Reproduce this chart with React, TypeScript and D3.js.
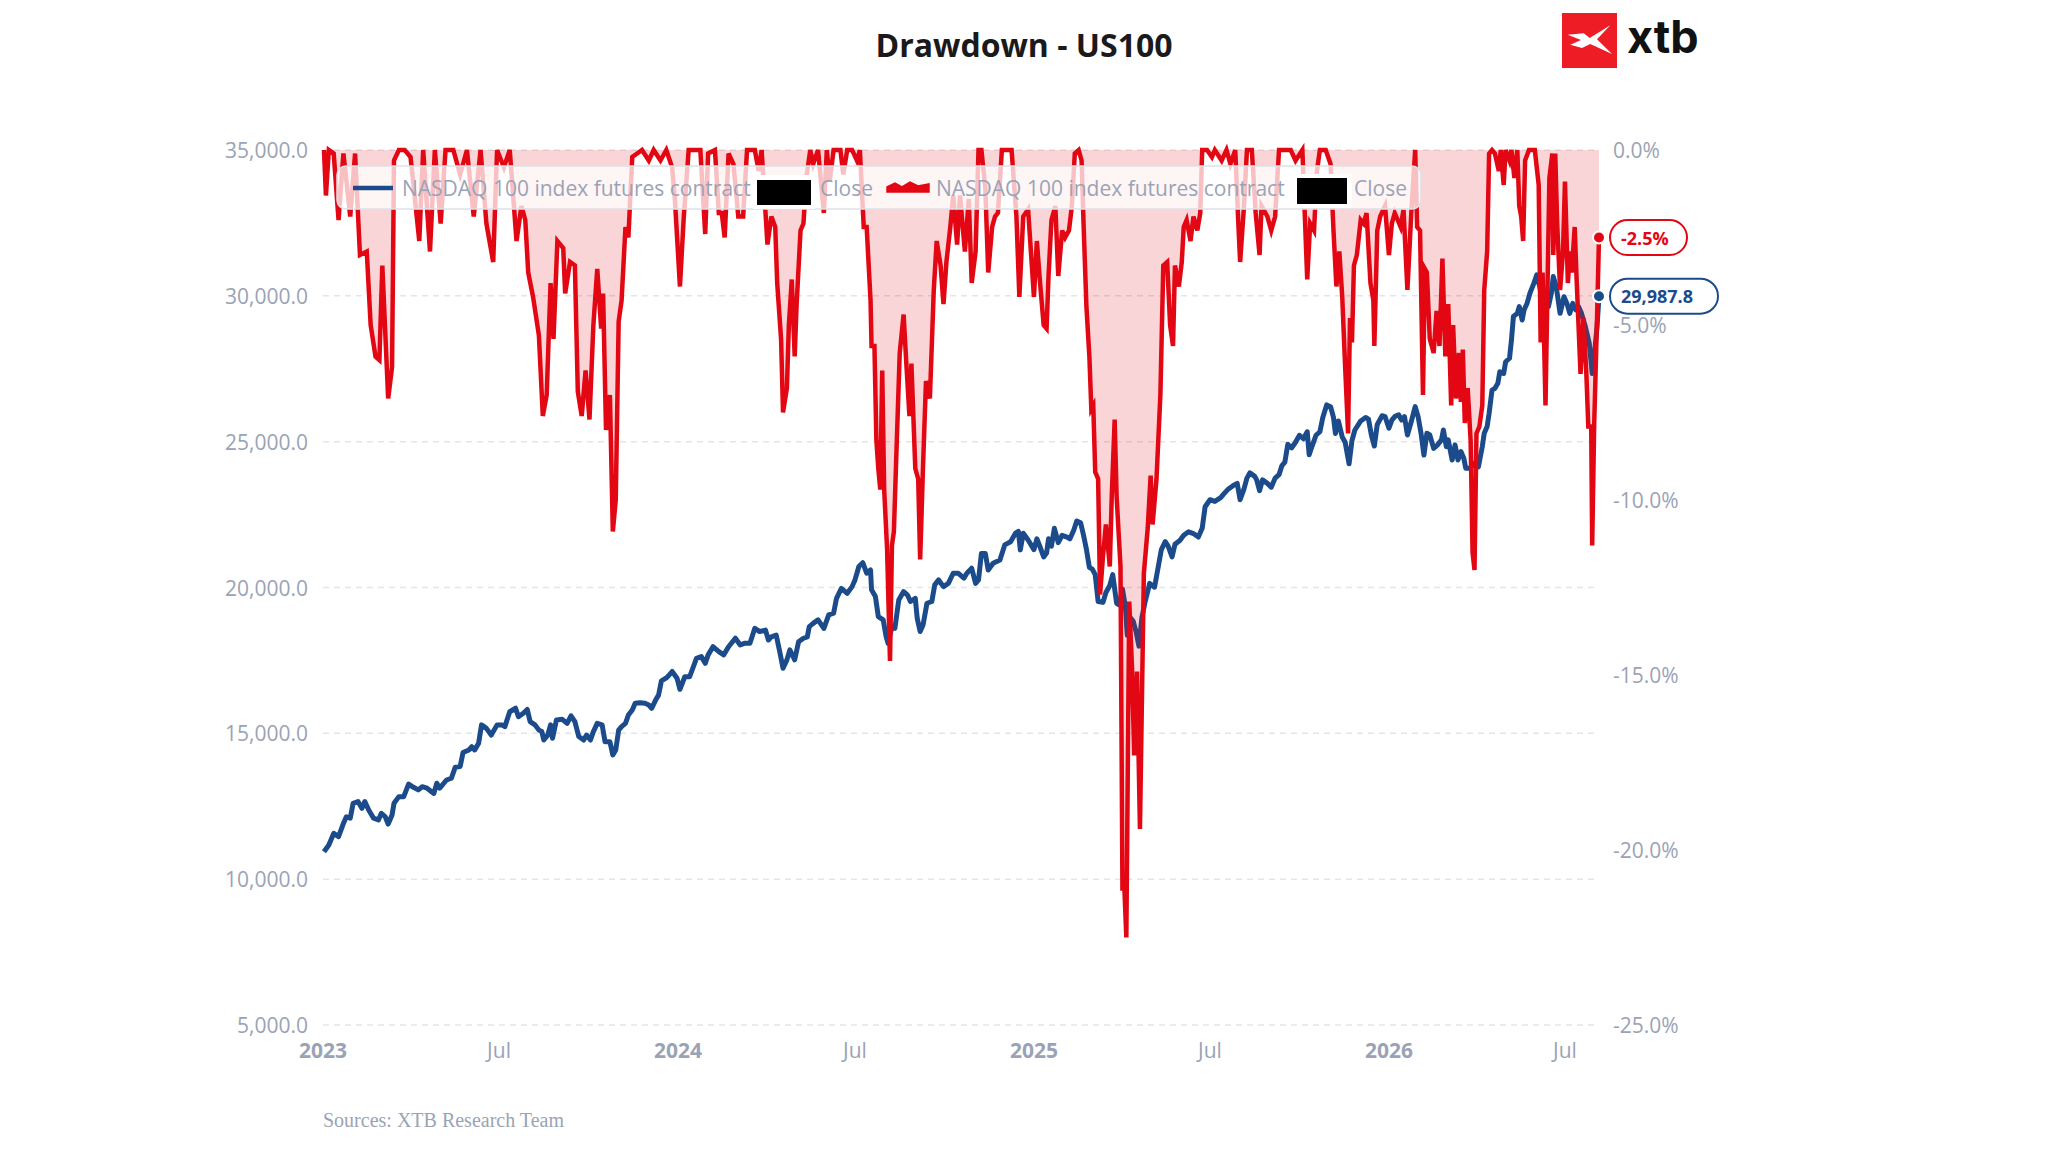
import React from 'react';
import * as d3 from 'd3';

// all series are keyed by days since 1 Jan 2023
const ORIGIN = new Date(2023, 0, 1);
const LAST_DAY = 1312;

// drawdown of the futures close, in %
const drawdown2023: [number, number][] = [
  [1, 0], [3, -1.3], [6, 0], [11, -0.1], [16, -2.0], [21, -0.1], [28, -1.9], [33, -0.1], [38, -3.0], [45, -2.9],
  [49, -5.0], [54, -5.9], [58, -6.0], [61, -3.3], [67, -7.1], [71, -6.2], [73, -0.3], [78, 0], [84, 0], [90, -0.2],
  [99, -2.6], [103, 0], [110, -2.9], [115, 0], [121, -2.1], [126, 0], [134, 0], [141, -0.7], [148, 0], [155, -1.9],
  [162, 0], [168, -2.1], [175, -3.2], [179, 0], [186, -0.5], [192, 0], [199, -2.6], [204, -1.6], [208, -2.0], [211, -3.5],
  [216, -4.2], [222, -5.3], [226, -7.6], [230, -7.0], [234, -3.8], [237, -5.4], [241, -2.6], [247, -2.8], [249, -4.1], [254, -3.2],
  [259, -3.3], [262, -6.9], [266, -7.6], [270, -6.3], [274, -7.7], [278, -5.0], [282, -3.4], [286, -5.1], [288, -4.1], [291, -8.0],
  [295, -7.0], [298, -10.9], [301, -10.0], [304, -4.9], [307, -4.3], [311, -2.2], [314, -2.5], [318, -0.2], [323, -0.1], [328, 0],
  [335, -0.3], [340, 0], [347, -0.3], [353, 0], [359, -0.5],
];

const drawdown2024: [number, number][] = [
  [362, -1.5], [367, -3.9], [371, -1.9], [376, 0], [381, 0], [388, 0], [393, -2.4], [396, -0.1], [403, 0], [407, -1.8],
  [410, -1.8], [413, -2.5], [417, -0.1], [422, -0.4], [427, -1.9], [432, -1.9], [436, 0], [444, 0], [448, -0.6], [451, 0],
  [457, -2.7], [461, -1.9], [465, -2.2], [467, -3.8], [471, -5.4], [473, -7.5], [477, -6.8], [479, -5.0], [482, -3.7], [485, -5.9],
  [487, -4.4], [491, -2.3], [494, -2.1], [497, -0.8], [501, 0], [504, -0.4], [509, 0], [515, -1.8], [518, 0], [521, -0.9],
  [525, 0], [532, 0], [535, -0.7], [539, 0], [544, 0], [549, -0.3], [552, 0], [556, -2.2], [559, -2.2], [563, -4.3],
  [564, -5.6], [567, -5.6], [569, -8.3], [571, -9.1], [573, -9.7], [575, -6.3], [577, -9.7], [580, -11.4], [583, -14.6], [585, -11.3],
  [587, -10.9], [590, -8.3], [593, -5.8], [597, -4.7], [600, -6.2], [603, -7.6], [605, -6.1], [609, -9.1], [612, -9.4], [614, -11.7],
  [617, -9.0], [620, -6.6], [624, -7.1], [628, -4.0], [631, -2.6], [635, -3.3], [638, -4.4], [641, -3.2], [645, -2.2], [648, -1.3],
  [652, -2.7], [655, -1.3], [660, -2.9], [664, -1.4], [667, -3.8], [671, -2.9], [674, 0], [677, 0], [681, -1.1], [684, -3.5],
  [688, -2.2], [691, -1.9], [694, -1.8], [698, 0], [703, 0], [708, 0], [713, -1.9], [716, -4.2], [720, -1.9], [725, -1.7],
];

const drawdown2025: [number, number][] = [
  [731, -4.2], [734, -2.6], [737, -3.7], [741, -5.0], [744, -5.1], [746, -3.6], [749, -2.0], [753, -1.6], [756, -3.6], [760, -2.3],
  [763, -2.5], [767, -2.3], [770, -1.6], [773, -0.1], [777, 0], [780, -0.3], [782, -2.1], [785, -4.5], [788, -5.9], [790, -7.4],
  [792, -7.3], [794, -9.2], [797, -9.4], [799, -12.7], [802, -11.6], [805, -10.7], [809, -11.9], [811, -9.9], [814, -7.7], [816, -9.9],
  [820, -11.9], [822, -21.1], [824, -21.1], [826, -22.5], [829, -12.9], [832, -14.9], [834, -17.3], [837, -14.9], [840, -19.4], [844, -12.1],
  [848, -10.8], [851, -9.3], [853, -10.7], [857, -9.4], [861, -7.0], [864, -3.3], [868, -3.2], [871, -5.0], [874, -5.6], [876, -3.3],
  [880, -3.9], [883, -3.2], [885, -2.2], [888, -2.0], [892, -2.6], [895, -1.9], [899, -2.3], [902, -1.8], [904, 0], [909, 0],
  [914, -0.2], [917, 0], [924, -0.3], [929, 0], [933, -0.4], [938, 0], [941, -2.0], [943, -3.2], [947, -1.6], [950, 0],
  [955, 0], [959, -1.8], [963, -3.0], [965, -1.6], [971, -1.9], [975, -2.3], [979, -1.9], [983, 0], [988, 0], [995, 0],
  [1000, -0.3], [1007, 0], [1012, -3.7], [1015, -2.1], [1019, -2.3], [1022, -0.6], [1025, 0], [1031, 0], [1036, -0.4], [1039, -2.3],
  [1042, -3.9], [1045, -2.9], [1048, -4.2], [1051, -6.2], [1054, -8.1], [1056, -4.8], [1058, -5.5], [1060, -3.3], [1063, -3.0], [1067, -2.0],
  [1070, -2.1], [1073, -1.8], [1077, -3.8], [1080, -4.3], [1081, -5.6], [1084, -2.3], [1087, -1.9],
];

const drawdown2026: [number, number][] = [
  [1092, -1.6], [1096, -3.0], [1099, -2.1], [1102, -1.8], [1108, -2.2], [1111, -1.7], [1115, -4.0], [1119, -1.8], [1123, 0], [1125, -2.2],
  [1128, -2.3], [1131, -7.0], [1133, -3.4], [1135, -3.5], [1138, -5.4], [1142, -5.8], [1145, -4.6], [1148, -5.6], [1151, -3.1], [1154, -5.9],
  [1157, -4.4], [1160, -7.3], [1162, -5.0], [1165, -7.1], [1168, -5.8], [1170, -7.2], [1172, -5.7], [1174, -7.8], [1177, -6.8], [1180, -8.3],
  [1182, -11.5], [1184, -12.0], [1186, -8.1], [1189, -7.9], [1192, -7.3], [1194, -4.0], [1197, -2.9], [1199, -0.1], [1202, 0], [1205, -0.1],
  [1209, -0.6], [1211, 0], [1214, -1.0], [1216, 0], [1220, -0.3], [1222, 0], [1225, -0.8], [1228, 0], [1230, -1.6], [1232, -1.9],
  [1234, -2.6], [1236, -0.3], [1240, 0], [1246, 0], [1250, -1.0], [1252, -5.5], [1254, -3.5], [1257, -7.3], [1259, -4.0], [1261, -0.8],
  [1264, -0.1], [1265, -3.0], [1267, -0.1], [1269, -2.1], [1272, -4.0], [1275, -2.9], [1277, -0.9], [1280, -3.8], [1282, -2.9], [1284, -3.5],
  [1287, -2.2], [1289, -3.7], [1293, -6.4], [1296, -4.8], [1299, -6.4], [1301, -7.9], [1304, -7.9], [1305, -11.3], [1307, -7.9], [1310, -4.8],
  [1312, -2.5],
];

// futures close
const close2023: [number, number][] = [
  [1, 10940], [6, 11170], [11, 11570], [16, 11460], [21, 11910], [24, 12140], [28, 12090], [31, 12600], [36, 12660], [40, 12430],
  [43, 12660], [47, 12370], [52, 12090], [57, 12030], [60, 12260], [64, 12140], [67, 11890], [71, 12200], [73, 12600], [78, 12830],
  [83, 12830], [88, 13260], [93, 13150], [98, 13060], [102, 13170], [107, 13120], [114, 12940], [117, 13290], [120, 13120], [127, 13400],
  [132, 13460], [136, 13840], [141, 13860], [144, 14340], [150, 14430], [153, 14540], [156, 14430], [160, 14660], [163, 15290], [168, 15170],
  [173, 14940], [179, 15290], [184, 15290], [187, 15230], [192, 15740], [198, 15860], [201, 15570], [206, 15690], [210, 15820], [213, 15400],
  [218, 15290], [222, 15110], [225, 15060], [227, 14770], [231, 14940], [234, 15290], [236, 14830], [240, 15460], [246, 15480], [251, 15340],
  [255, 15600], [259, 15400], [263, 14890], [268, 14770], [271, 14940], [275, 14770], [278, 15060], [282, 15340], [287, 15290], [290, 14710],
  [295, 14710], [298, 14260], [301, 14430], [304, 15110], [307, 15230], [311, 15340], [314, 15630], [318, 15800], [321, 16030], [326, 16050],
  [331, 16030], [335, 15970], [338, 15860], [342, 16140], [345, 16310], [348, 16800], [353, 16900], [356, 17000],
];

const close2024: [number, number][] = [
  [359, 17120], [364, 16890], [367, 16510], [372, 16940], [377, 16940], [384, 17570], [389, 17630], [393, 17400], [396, 17690], [401, 17970],
  [407, 17800], [412, 17690], [417, 17970], [424, 18260], [429, 18030], [434, 18090], [439, 18090], [444, 18600], [449, 18490], [455, 18540],
  [458, 18200], [461, 18310], [466, 18370], [470, 17740], [473, 17230], [477, 17520], [480, 17860], [485, 17520], [489, 18140], [494, 18260],
  [498, 18310], [500, 18660], [504, 18770], [509, 18890], [515, 18600], [520, 19060], [525, 19120], [528, 19630], [533, 19970], [539, 19800],
  [544, 20030], [547, 20260], [551, 20720], [555, 20850], [559, 20490], [563, 20600], [564, 19920], [568, 19690], [571, 19000], [576, 18890],
  [579, 18320], [581, 18090], [585, 18660], [588, 18600], [592, 19570], [597, 19860], [601, 19740], [604, 19520], [609, 19630], [611, 18940],
  [614, 18490], [617, 18720], [621, 19460], [626, 19520], [629, 20090], [633, 20260], [638, 20030], [643, 20140], [648, 20490], [653, 20490],
  [659, 20320], [662, 20490], [667, 20660], [671, 20140], [674, 20260], [677, 21170], [681, 21170], [684, 20600], [689, 20830], [696, 20940],
  [701, 21460], [707, 21570], [712, 21860], [715, 21920], [717, 21290], [720, 21860], [725, 21630],
];

const close2025: [number, number][] = [
  [731, 21300], [734, 21670], [737, 21420], [741, 21050], [744, 21180], [746, 21670], [749, 21420], [752, 22030], [756, 21540], [760, 21790],
  [765, 21730], [768, 21670], [772, 21970], [775, 22280], [779, 22220], [782, 21790], [785, 21300], [788, 20690], [791, 20630], [794, 20440],
  [797, 19520], [802, 19490], [805, 19830], [809, 20070], [812, 20440], [816, 19460], [819, 19400], [822, 19950], [825, 19340], [827, 18360],
  [830, 18970], [833, 18850], [836, 18480], [839, 17990], [842, 18970], [845, 19460], [850, 20140], [855, 20010], [858, 20560], [862, 21300],
  [866, 21570], [869, 21420], [873, 21050], [876, 21480], [881, 21610], [885, 21790], [890, 21910], [895, 21850], [900, 21730], [904, 22030],
  [907, 22770], [912, 23010], [917, 22950], [923, 23080], [926, 23200], [931, 23380], [936, 23500], [940, 23570], [943, 23010], [947, 23380],
  [950, 23750], [953, 23930], [958, 23810], [960, 23690], [963, 23320], [966, 23690], [971, 23570], [975, 23440], [979, 23750], [983, 23870],
  [986, 24180], [989, 24300], [992, 24910], [996, 24790], [1000, 24980], [1004, 25220], [1008, 25100], [1012, 25340], [1014, 24550], [1017, 24850],
  [1021, 25220], [1025, 25340], [1028, 25830], [1032, 26260], [1036, 26200], [1039, 25830], [1041, 25280], [1044, 25710], [1048, 25160], [1051, 24980],
  [1055, 24240], [1058, 25040], [1061, 25400], [1067, 25710], [1072, 25830], [1075, 25770], [1078, 25220], [1081, 24850], [1084, 25590], [1089, 25890],
];

const close2026: [number, number][] = [
  [1092, 25860], [1096, 25460], [1099, 25740], [1102, 25860], [1106, 25920], [1109, 25740], [1112, 25860], [1115, 25230], [1119, 25690], [1123, 26200],
  [1126, 25860], [1129, 25290], [1132, 24540], [1135, 25290], [1138, 25230], [1142, 24770], [1146, 24890], [1150, 25060], [1152, 25400], [1155, 24830],
  [1157, 25060], [1161, 24370], [1164, 24890], [1167, 24370], [1170, 24660], [1173, 24430], [1175, 24090], [1180, 24090], [1183, 24260], [1188, 24140],
  [1192, 24830], [1194, 25290], [1197, 25520], [1199, 25970], [1202, 26770], [1205, 26830], [1208, 27000], [1210, 27400], [1214, 27340], [1216, 27740],
  [1220, 27860], [1222, 28490], [1224, 29290], [1228, 29400], [1230, 29630], [1233, 29170], [1235, 29520], [1238, 29740], [1241, 30090], [1245, 30430],
  [1248, 30720], [1251, 30320], [1253, 29970], [1257, 30090], [1260, 29630], [1263, 30090], [1265, 30660], [1268, 30320], [1270, 29860], [1272, 29400],
  [1276, 29970], [1279, 29740], [1282, 29400], [1285, 29740], [1288, 29520], [1291, 29630], [1294, 29400], [1298, 28940], [1302, 28370], [1305, 27340],
  [1307, 27920], [1310, 28940], [1312, 29987.8],
];

const leftTicks = [5000, 10000, 15000, 20000, 25000, 30000, 35000];
const rightTicks = [0, -5, -10, -15, -20, -25];
const xTickDates = ['2023-01-01', '2023-07-01', '2024-01-01', '2024-07-01', '2025-01-01', '2025-07-01', '2026-01-01', '2026-07-01'];
const xTickLabels = ['2023', 'Jul', '2024', 'Jul', '2025', 'Jul', '2026', 'Jul'];

const BLUE = '#1c4b8c';
const RED = '#e30613';
const GREY = '#9aa3b5';
const SANS = '"Open Sans", "Noto Sans", sans-serif';

type Pt = { date: Date; value: number };

const toPoints = (rows: [number, number][]): Pt[] =>
  rows.map(([day, value]) => ({ date: d3.timeDay.offset(ORIGIN, day), value }));

export default function App() {
  const width = 2048;
  const height = 1152;
  const plot = { left: 323, right: 1599, top: 150, bottom: 1025 };

  const closeData = toPoints([...close2023, ...close2024, ...close2025, ...close2026]);
  const ddData = toPoints([...drawdown2023, ...drawdown2024, ...drawdown2025, ...drawdown2026]);

  const x = d3.scaleTime()
    .domain([ORIGIN, d3.timeDay.offset(ORIGIN, LAST_DAY)])
    .range([plot.left, plot.right]);
  const yLeft = d3.scaleLinear().domain([5000, 35000]).range([plot.bottom, plot.top]);
  const yRight = d3.scaleLinear().domain([-25, 0]).range([plot.bottom, plot.top]);

  const closeLine = d3.line<Pt>().x(d => x(d.date)).y(d => yLeft(d.value));
  const ddLine = d3.line<Pt>().x(d => x(d.date)).y(d => yRight(d.value));
  const ddArea = d3.area<Pt>().x(d => x(d.date)).y0(yRight(0)).y1(d => yRight(d.value));

  const parse = d3.timeParse('%Y-%m-%d');
  const fmtLeft = d3.format(',.1f');
  const fmtRight = (v: number) => `${v.toFixed(1)}%`;

  const lastClose = closeData[closeData.length - 1];
  const lastDd = ddData[ddData.length - 1];

  return (
    <svg width={width} height={height} style={{ position: 'absolute', left: 0, top: 0, background: '#fff' }}>
      {/* title */}
      <text x={1024} y={44} textAnchor="middle" dominantBaseline="central"
        fontFamily={SANS} fontWeight={700} fontSize={32} fill="#1a1a1a">Drawdown - US100</text>

      {/* logo */}
      <rect x={1562} y={13} width={55} height={55} fill="#ee1c25" />
      <path
        transform="translate(1562,13)"
        d="M5.7,21.7 L21.7,20.3 L27.7,25 L48.3,12.3 L35,26.3 L50,41 L28.3,31 L20,35 L8.3,31.7 L19,27 Z"
        fill="#fff" />
      <text x={1627} y={53} fontFamily='Inter, "Open Sans", sans-serif' fontWeight={700} fontSize={45} fill="#111">xtb</text>

      {/* grid */}
      {leftTicks.map(t => (
        <line key={t} x1={plot.left} x2={plot.right} y1={yLeft(t)} y2={yLeft(t)}
          stroke="#e3e5ea" strokeWidth={1.5} strokeDasharray="6 5" />
      ))}

      {/* left axis labels */}
      {leftTicks.map(t => (
        <text key={t} x={308} y={yLeft(t)} textAnchor="end" dominantBaseline="central"
          fontFamily={SANS} fontSize={21} fill={GREY}>{fmtLeft(t)}</text>
      ))}

      {/* right axis labels */}
      {rightTicks.map(t => (
        <text key={t} x={1613} y={yRight(t)} dominantBaseline="central"
          fontFamily={SANS} fontSize={21} fill={GREY}>{fmtRight(t)}</text>
      ))}

      {/* x axis labels */}
      {xTickDates.map((s, i) => {
        const isYear = xTickLabels[i] !== 'Jul';
        return (
          <text key={s} x={x(parse(s) as Date)} y={1050} textAnchor="middle" dominantBaseline="central"
            fontFamily={SANS} fontSize={21} fontWeight={isYear ? 700 : 400} fill={GREY}>
            {xTickLabels[i]}
          </text>
        );
      })}

      {/* close price */}
      <path d={closeLine(closeData) ?? ''} fill="none" stroke={BLUE} strokeWidth={5} strokeLinejoin="round" />

      {/* drawdown */}
      <path d={ddArea(ddData) ?? ''} fill={RED} fillOpacity={0.17} />
      <path d={ddLine(ddData) ?? ''} fill="none" stroke={RED} strokeWidth={4.5} />

      {/* legend */}
      <g>
        <rect x={337} y={166} width={1084} height={43} rx={9} fill="#fff" fillOpacity={0.75} stroke="#dde1e8" strokeWidth={1.5} />
        <line x1={353} x2={393} y1={188} y2={188} stroke={BLUE} strokeWidth={4.5} />
        <text x={402} y={188} dominantBaseline="central" fontFamily={SANS} fontSize={21} fill={GREY}>NASDAQ 100 index futures contract</text>
        <rect x={753} y={175} width={62} height={34} fill="#fff" />
        <rect x={757} y={180} width={54} height={25} fill="#000" />
        <text x={820} y={188} dominantBaseline="central" fontFamily={SANS} fontSize={21} fill={GREY}>Close</text>
        <path d="M887,187 L895,183 L902,187 L910,182 L918,186 L929,184 L929,192 L887,192 Z" fill={RED} stroke={RED} strokeWidth={1.5} />
        <text x={936} y={188} dominantBaseline="central" fontFamily={SANS} fontSize={21} fill={GREY}>NASDAQ 100 index futures contract</text>
        <rect x={1292} y={174} width={60} height={34} fill="#fff" />
        <rect x={1297} y={178} width={50} height={26} fill="#000" />
        <text x={1354} y={188} dominantBaseline="central" fontFamily={SANS} fontSize={21} fill={GREY}>Close</text>
      </g>

      {/* last-value markers */}
      <circle cx={x(lastDd.date)} cy={yRight(lastDd.value)} r={6} fill={RED} stroke="#fff" strokeWidth={2} />
      <rect x={1610} y={yRight(lastDd.value) - 17.5} width={77} height={35} rx={17.5} fill="#fff" stroke={RED} strokeWidth={2} />
      <text x={1621} y={yRight(lastDd.value)} dominantBaseline="central" fontFamily={SANS} fontWeight={700} fontSize={18} fill={RED}>
        {fmtRight(lastDd.value)}
      </text>

      <circle cx={x(lastClose.date)} cy={yLeft(lastClose.value)} r={6} fill={BLUE} stroke="#fff" strokeWidth={2} />
      <rect x={1610} y={yLeft(lastClose.value) - 17.5} width={108} height={35} rx={17.5} fill="#fff" stroke={BLUE} strokeWidth={2} />
      <text x={1621} y={yLeft(lastClose.value)} dominantBaseline="central" fontFamily={SANS} fontWeight={700} fontSize={18} fill={BLUE}>
        {fmtLeft(lastClose.value)}
      </text>

      {/* source */}
      <text x={323} y={1120} dominantBaseline="central" fontFamily='"Liberation Serif", serif' fontSize={20} fill={GREY}>
        Sources: XTB Research Team
      </text>
    </svg>
  );
}
